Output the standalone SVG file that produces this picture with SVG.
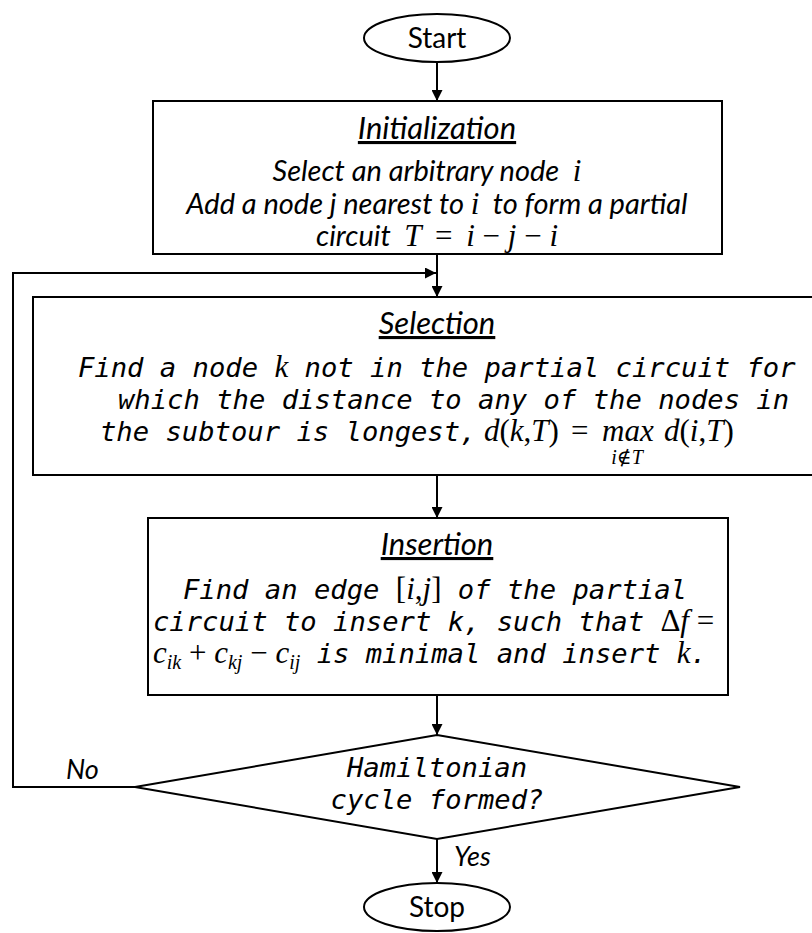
<svg xmlns="http://www.w3.org/2000/svg" width="812" height="933" viewBox="0 0 812 933">
  <defs>
    <marker id="arrow" viewBox="0 0 10 10" refX="10" refY="5" markerWidth="12" markerHeight="11" markerUnits="userSpaceOnUse" orient="auto">
      <path d="M0,0 L10,5 L0,10 Z" fill="#000"/>
    </marker>
    <style>
      .shape { fill: #fff; stroke: #000; stroke-width: 2; }
      .edge { fill: none; stroke: #000; stroke-width: 2; }
      .head { font-family: Lato, "Open Sans", sans-serif; font-style: italic; font-size: 31px; fill: #000; text-decoration: underline; }
      .term { font-family: Lato, "Open Sans", sans-serif; font-size: 28px; fill: #000; }
      .body { font-family: Lato, "Open Sans", sans-serif; font-style: italic; font-size: 29px; fill: #000; white-space: pre; }
      .mono { font-family: "DejaVu Sans Mono", "Liberation Mono", monospace; font-style: italic; font-size: 27.2px; fill: #000; white-space: pre; }
      .math { font-family: "Liberation Serif", "DejaVu Serif", serif; font-style: italic; font-size: 31px; fill: #000; white-space: pre; }
      .up { font-style: normal; }
      .sub { font-size: 20px; }
      .lbl { font-family: Lato, "Open Sans", sans-serif; font-style: italic; font-size: 27px; fill: #000; }
    </style>
  </defs>

  <!-- connectors -->
  <g id="connectors">
    <line class="edge" x1="437" y1="62" x2="437" y2="101" marker-end="url(#arrow)"/>
    <line class="edge" x1="437" y1="254" x2="437" y2="297" marker-end="url(#arrow)"/>
    <polyline class="edge" points="135,787 13,787 13,273 436,273" marker-end="url(#arrow)"/>
    <line class="edge" x1="437" y1="475" x2="437" y2="518" marker-end="url(#arrow)"/>
    <line class="edge" x1="437" y1="695" x2="437" y2="735" marker-end="url(#arrow)"/>
    <line class="edge" x1="437" y1="839" x2="437" y2="883" marker-end="url(#arrow)"/>
    <text class="lbl" x="66" y="779">No</text>
    <text class="lbl" x="454" y="866">Yes</text>
  </g>

  <!-- start terminal -->
  <g id="start">
    <ellipse class="shape" cx="437" cy="38" rx="73" ry="24"/>
    <text class="term" x="437" y="48" text-anchor="middle">Start</text>
  </g>

  <!-- initialization step -->
  <g id="init">
    <rect class="shape" x="153" y="101" width="569" height="153"/>
    <text class="head" x="437" y="139" text-anchor="middle">Initialization</text>
    <text class="body" x="427" y="181" text-anchor="middle">Select an arbitrary node  <tspan class="math">i</tspan></text>
    <text class="body" x="437" y="214" text-anchor="middle">Add a node j nearest to <tspan class="math">i</tspan>  to form a partial</text>
    <text class="body" x="437" y="246" text-anchor="middle">circuit  <tspan class="math">T</tspan>  <tspan class="math up">=</tspan>  <tspan class="math">i</tspan><tspan class="math up"> − </tspan><tspan class="math">j</tspan><tspan class="math up"> − </tspan><tspan class="math">i</tspan></text>
  </g>

  <!-- selection step -->
  <g id="selection">
    <rect class="shape" x="33" y="297" width="808" height="178"/>
    <text class="head" x="437" y="334" text-anchor="middle">Selection</text>
    <text class="mono" x="78" y="377">Find a node <tspan class="math">k</tspan> not in the partial circuit for</text>
    <text class="mono" x="118" y="409">which the distance to any of the nodes in</text>
    <text class="mono" x="100" y="441">the subtour is longest,</text>
    <text class="math" x="484" y="441">d<tspan class="up">(</tspan>k<tspan class="up">,</tspan>T<tspan class="up">)</tspan></text>
    <text class="math up" x="571" y="441">=</text>
    <text class="math" x="602" y="441">max</text>
    <text class="math" x="664" y="441">d<tspan class="up">(</tspan>i<tspan class="up">,</tspan>T<tspan class="up">)</tspan></text>
    <text class="math sub" x="627" y="464" text-anchor="middle">i<tspan class="up">∉</tspan>T</text>
  </g>

  <!-- insertion step -->
  <g id="insertion">
    <rect class="shape" x="148" y="518" width="580" height="177"/>
    <text class="head" x="437" y="555" text-anchor="middle">Insertion</text>
    <text class="mono" x="183" y="599">Find an edge <tspan class="math up">[</tspan><tspan class="math">i</tspan><tspan class="math up">,</tspan><tspan class="math">j</tspan><tspan class="math up">]</tspan> of the partial</text>
    <text class="mono" x="153" y="631">circuit to insert k, such that <tspan class="math up">Δ</tspan><tspan class="math">f</tspan><tspan class="math up"> =</tspan></text>
    <text class="mono" x="153" y="663"><tspan class="math">c</tspan><tspan class="math sub" dy="6">ik</tspan><tspan class="math up" dy="-6"> + </tspan><tspan class="math">c</tspan><tspan class="math sub" dy="6">kj</tspan><tspan class="math up" dy="-6"> − </tspan><tspan class="math">c</tspan><tspan class="math sub" dy="6">ij</tspan><tspan dy="-6"> is minimal and insert </tspan><tspan class="math">k</tspan>.</text>
  </g>

  <!-- decision -->
  <g id="decision">
    <polygon class="shape" points="437,735 740,787 437,839 135,787"/>
    <text class="mono" x="437" y="777" font-size="25" text-anchor="middle">Hamiltonian</text>
    <text class="mono" x="437" y="809" font-size="25" text-anchor="middle">cycle formed?</text>
  </g>

  <!-- stop terminal -->
  <g id="stop">
    <ellipse class="shape" cx="437" cy="907" rx="73" ry="24"/>
    <text class="term" x="437" y="917" text-anchor="middle">Stop</text>
  </g>
</svg>
